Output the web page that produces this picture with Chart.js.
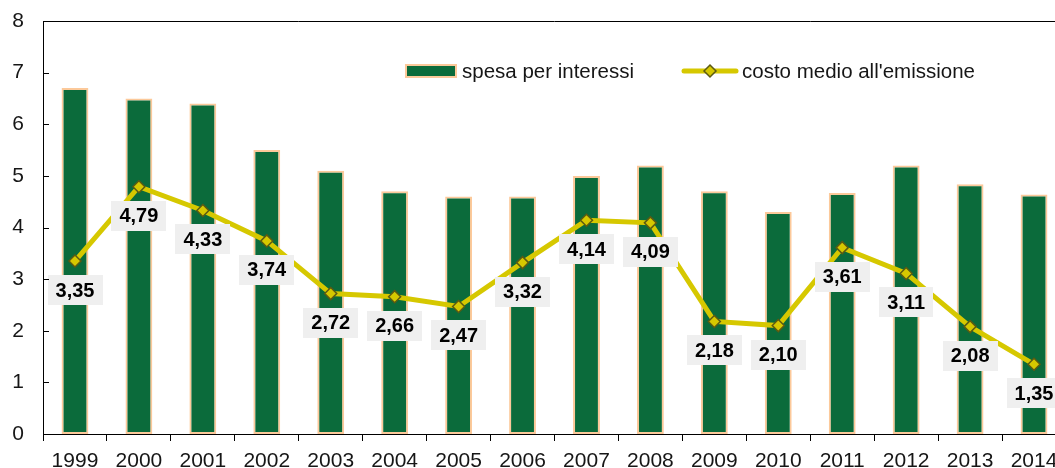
<!DOCTYPE html>
<html>
<head>
<meta charset="utf-8">
<script src="https://cdn.jsdelivr.net/npm/chart.js@4.4.1/dist/chart.umd.min.js"></script>
<style>
  html, body { margin: 0; padding: 0; overflow: hidden; background: #ffffff; }
  #wrap { width: 1066px; height: 468px; }
</style>
</head>
<body>
<div id="wrap"><canvas id="chart" width="1066" height="468"></canvas></div>
<script>
// Anni
const years = ['1999', '2000', '2001', '2002', '2003', '2004', '2005', '2006',
               '2007', '2008', '2009', '2010', '2011', '2012', '2013', '2014'];

// Spesa per interessi (barre)
const spesaInteressi = [6.70, 6.50, 6.40, 5.50, 5.10, 4.70, 4.60, 4.60,
                        5.00, 5.20, 4.70, 4.30, 4.67, 5.20, 4.84, 4.64];

// Costo medio all'emissione (linea, con etichette)
const costoMedio = [3.35, 4.79, 4.33, 3.74, 2.72, 2.66, 2.47, 3.32,
                    4.14, 4.09, 2.18, 2.10, 3.61, 3.11, 2.08, 1.35];

// Tacche dell'asse verticale
const yTickValues = [0, 1, 2, 3, 4, 5, 6, 7, 8];

const GREEN = '#0b6b3b';
const PEACH = '#fcc99a';
const YELLOW = '#d6c800';
const OLIVE = '#5c5a12';
const TEXT = '#161616';
const FONT = '"Liberation Sans", Arial, sans-serif';

const fmt = v => v.toFixed(2).replace('.', ',');

// Cornice superiore e tacche interne dell'asse y
const framePlugin = {
  id: 'frame',
  afterDraw(chart) {
    const { ctx, chartArea: a, scales: { y } } = chart;
    ctx.save();
    ctx.strokeStyle = '#000';
    ctx.lineWidth = 1;
    ctx.beginPath();
    const top = Math.round(a.top) + 0.5;
    ctx.moveTo(a.left, top);
    ctx.lineTo(a.right, top);
    yTickValues.forEach(v => {
      const py = Math.round(y.getPixelForValue(v)) + 0.5;
      ctx.moveTo(a.left, py);
      ctx.lineTo(a.left + 6, py);
    });
    ctx.stroke();
    ctx.restore();
  }
};

// Etichette dei valori sotto i punti della linea
const labelPlugin = {
  id: 'valueLabels',
  afterDatasetsDraw(chart) {
    const { ctx } = chart;
    const idx = chart.data.datasets.findIndex(d => d.type === 'line');
    const meta = chart.getDatasetMeta(idx);
    const data = chart.data.datasets[idx].data;
    ctx.save();
    ctx.font = 'bold 20px ' + FONT;
    ctx.textAlign = 'center';
    ctx.textBaseline = 'middle';
    meta.data.forEach((pt, i) => {
      const txt = fmt(data[i]);
      const w = ctx.measureText(txt).width + 16;
      const h = 30;
      const cx = pt.x;
      const cy = pt.y + 29;
      ctx.fillStyle = '#efefef';
      ctx.fillRect(Math.round(cx - w / 2), Math.round(cy - h / 2), Math.round(w), h);
      ctx.fillStyle = '#000';
      ctx.fillText(txt, cx, cy + 1);
    });
    ctx.restore();
  }
};

// Legenda interna all'area del grafico
const legendPlugin = {
  id: 'innerLegend',
  afterDraw(chart) {
    const { ctx } = chart;
    const ds = chart.data.datasets;
    const bar = ds.find(d => d.type === 'bar');
    const line = ds.find(d => d.type === 'line');
    const cy = 71;
    ctx.save();
    // barra
    ctx.fillStyle = PEACH;
    ctx.fillRect(405, 64, 52, 14);
    ctx.fillStyle = GREEN;
    ctx.fillRect(407, 66, 48, 10);
    ctx.font = '20.5px ' + FONT;
    ctx.fillStyle = TEXT;
    ctx.textBaseline = 'middle';
    ctx.textAlign = 'left';
    ctx.fillText(bar.label, 462, cy + 1);
    // linea
    ctx.strokeStyle = YELLOW;
    ctx.lineWidth = 5;
    ctx.lineCap = 'round';
    ctx.beginPath();
    ctx.moveTo(684, cy);
    ctx.lineTo(736, cy);
    ctx.stroke();
    ctx.fillStyle = YELLOW;
    ctx.strokeStyle = OLIVE;
    ctx.lineWidth = 1.5;
    Chart.helpers.drawPoint(ctx, { pointStyle: 'rectRot', radius: 6, borderWidth: 1.5 }, 710, cy);
    ctx.fillStyle = TEXT;
    ctx.fillText(line.label, 742, cy + 1);
    ctx.restore();
  }
};

new Chart(document.getElementById('chart'), {
  data: {
    labels: years,
    datasets: [
      {
        type: 'line',
        label: "costo medio all'emissione",
        data: costoMedio,
        order: 1,
        borderColor: YELLOW,
        borderWidth: 5,
        tension: 0,
        pointStyle: 'rectRot',
        pointRadius: 6,
        pointBackgroundColor: YELLOW,
        pointBorderColor: OLIVE,
        pointBorderWidth: 1.5,
        clip: false
      },
      {
        type: 'bar',
        label: 'spesa per interessi',
        data: spesaInteressi,
        order: 2,
        backgroundColor: GREEN,
        borderColor: PEACH,
        borderWidth: 2,
        borderSkipped: false,
        barPercentage: 0.42,
        categoryPercentage: 1.0
      }
    ]
  },
  options: {
    responsive: false,
    animation: false,
    devicePixelRatio: 1,
    layout: { autoPadding: false, padding: { top: 21, left: 0, right: 0, bottom: 0 } },
    plugins: { legend: { display: false }, tooltip: { enabled: false } },
    scales: {
      x: {
        type: 'category',
        offset: true,
        grid: { display: true, drawOnChartArea: false, drawTicks: true, tickLength: 7, offset: true, color: '#000' },
        border: { display: true, color: '#000', width: 1 },
        ticks: { font: { family: FONT, size: 21 }, color: TEXT, padding: 8, maxRotation: 0, autoSkip: false },
        afterFit(scale) { scale.height = 34; scale.paddingLeft = 0; scale.paddingRight = 0; }
      },
      y: {
        min: 0,
        max: 8,
        afterBuildTicks(scale) { scale.ticks = yTickValues.map(v => ({ value: v })); },
        grid: { display: false, drawTicks: false },
        border: { display: true, color: '#000', width: 1 },
        ticks: { font: { family: FONT, size: 21 }, color: TEXT, padding: 19 },
        afterFit(scale) { scale.width = 43; scale.paddingTop = 0; scale.paddingBottom = 0; }
      }
    }
  },
  plugins: [framePlugin, labelPlugin, legendPlugin]
});
</script>
</body>
</html>
